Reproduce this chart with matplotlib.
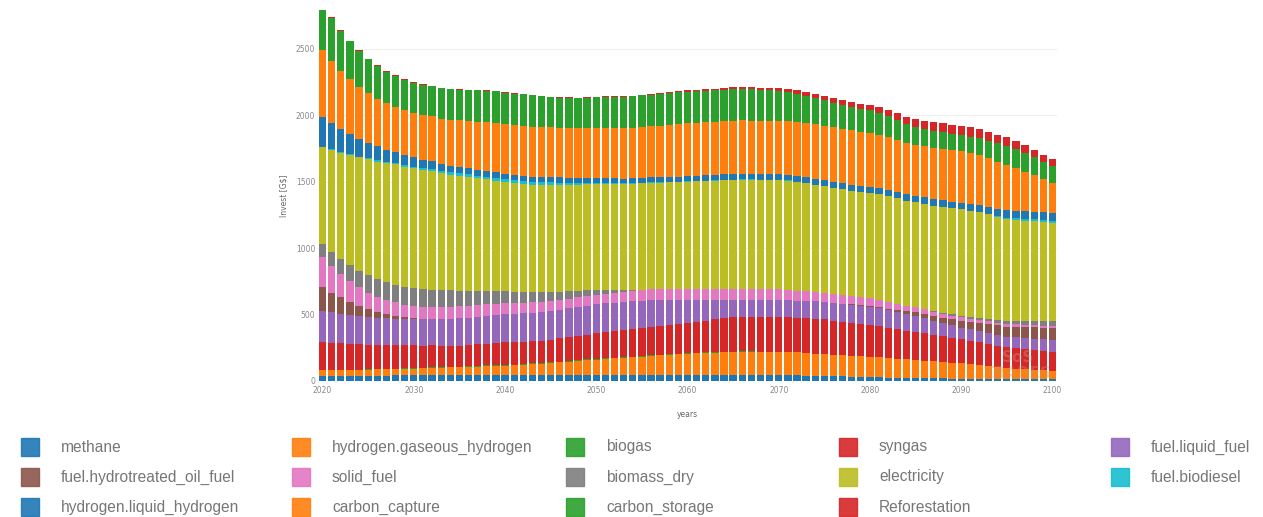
import numpy as np
import matplotlib.pyplot as plt
from matplotlib.patches import Rectangle

years = list(range(2020, 2101))

methane = [40, 40, 40, 40, 41, 41, 41, 41, 42, 42,
           42, 42, 43, 43, 43, 44, 44, 44, 45, 45,
           45, 45, 46, 46, 46, 46, 47, 47, 47, 48,
           48, 48, 48, 48, 48, 48, 48, 48, 48, 48,
           48, 48, 48, 47, 47, 47, 47, 46, 46, 45,
           45, 44, 43, 41, 40, 38, 36, 34, 32, 30,
           28, 27, 25, 24, 22, 20, 20, 19, 19, 18,
           18, 17, 17, 16, 16, 15, 15, 14, 14, 13,
           13]
hydrogen_gaseous = [43, 43, 43, 44, 44, 45, 46, 47, 48, 50,
                    51, 53, 55, 57, 59, 61, 63, 65, 67, 68,
                    70, 73, 77, 81, 85, 89, 94, 99, 104, 109,
                    113, 118, 122, 127, 131, 136, 141, 145, 150, 154,
                    158, 161, 164, 167, 170, 172, 174, 175, 175, 175,
                    175, 174, 172, 170, 167, 165, 163, 161, 159, 157,
                    156, 153, 149, 145, 141, 138, 134, 129, 124, 120,
                    115, 109, 102, 95, 88, 81, 78, 74, 71, 68,
                    65]
biogas = [0, 0, 0, 1, 1, 2, 2, 2, 3, 3,
          3, 3, 4, 4, 4, 4, 5, 5, 5, 5,
          5, 5, 5, 5, 5, 5, 5, 5, 5, 5,
          5, 5, 5, 4, 4, 4, 4, 4, 3, 3,
          3, 3, 3, 2, 2, 2, 2, 2, 1, 1,
          1, 1, 1, 1, 0, 0, 0, 0, 0, 0,
          0, 0, 0, 0, 0, 0, 0, 0, 0, 0,
          0, 0, 0, 0, 0, 0, 0, 0, 0, 0,
          0]
syngas = [213, 206, 201, 195, 190, 185, 182, 179, 177, 174,
          172, 169, 166, 163, 160, 158, 159, 161, 164, 167,
          170, 168, 167, 167, 168, 170, 174, 179, 184, 188,
          193, 196, 199, 202, 205, 208, 212, 216, 220, 223,
          226, 233, 240, 247, 253, 258, 261, 262, 263, 263,
          263, 263, 262, 262, 261, 260, 256, 252, 247, 243,
          238, 233, 228, 222, 217, 213, 207, 200, 194, 187,
          181, 177, 172, 168, 163, 158, 155, 152, 149, 146,
          143]
liquid_fuel = [233, 228, 221, 218, 213, 211, 206, 202, 200, 199,
               197, 198, 200, 202, 204, 205, 207, 208, 210, 211,
               212, 213, 214, 215, 215, 216, 216, 217, 217, 218,
               218, 217, 215, 213, 211, 208, 203, 196, 189, 183,
               176, 166, 156, 146, 137, 130, 127, 126, 125, 125,
               125, 126, 127, 129, 131, 132, 133, 135, 136, 137,
               138, 136, 133, 129, 125, 120, 113, 106, 99, 93,
               88, 85, 83, 81, 80, 80, 81, 83, 85, 87,
               88]
hydrotreated_oil_fuel = [181, 148, 125, 98, 76, 58, 45, 33, 23, 13,
                         7, 3, 1, 0, 0, 0, 0, 0, 0, 0,
                         0, 0, 0, 0, 0, 0, 0, 0, 0, 0,
                         0, 0, 0, 0, 0, 0, 0, 0, 0, 0,
                         0, 0, 0, 0, 0, 0, 0, 0, 0, 0,
                         0, 0, 0, 0, 0, 0, 0, 1, 2, 3,
                         5, 7, 10, 14, 19, 25, 30, 35, 41, 46,
                         51, 56, 61, 66, 71, 75, 78, 81, 84, 86,
                         88]
solid_fuel = [221, 201, 176, 158, 141, 123, 113, 105, 98, 92,
              93, 92, 91, 90, 90, 89, 89, 88, 87, 86,
              85, 83, 81, 79, 78, 76, 75, 73, 72, 71,
              70, 72, 74, 76, 78, 80, 81, 82, 83, 84,
              85, 85, 85, 85, 85, 85, 84, 83, 82, 81,
              80, 78, 75, 72, 68, 65, 64, 62, 61, 59,
              58, 54, 50, 46, 42, 38, 36, 33, 30, 28,
              26, 24, 23, 22, 20, 19, 19, 18, 18, 17,
              17]
biomass_dry = [103, 108, 113, 120, 125, 131, 135, 138, 135, 135,
               133, 130, 128, 125, 122, 120, 114, 108, 101, 94,
               88, 84, 80, 75, 71, 67, 61, 55, 50, 45,
               40, 32, 22, 12, 5, 2, 0, 0, 0, 0,
               0, 0, 0, 0, 0, 0, 0, 0, 0, 0,
               0, 0, 0, 0, 0, 0, 0, 0, 0, 0,
               0, 0, 0, 0, 0, 0, 2, 4, 7, 10,
               12, 14, 16, 18, 19, 20, 24, 28, 32, 35,
               38]
electricity = [728, 766, 800, 829, 853, 873, 882, 891, 904, 904,
               903, 899, 891, 882, 871, 864, 855, 847, 840, 833,
               826, 818, 813, 810, 810, 810, 806, 802, 798, 796,
               795, 796, 798, 800, 802, 803, 803, 803, 803, 803,
               803, 806, 810, 814, 817, 819, 821, 822, 822, 823,
               824, 823, 820, 816, 811, 805, 802, 799, 797, 796,
               795, 795, 795, 794, 792, 790, 791, 793, 796, 799,
               802, 800, 795, 788, 780, 772, 765, 758, 750, 743,
               735]
biodiesel = [2, 3, 4, 5, 6, 7, 8, 10, 11, 12,
             13, 14, 15, 16, 17, 18, 19, 20, 20, 21,
             21, 21, 20, 20, 19, 18, 16, 14, 12, 11,
             10, 9, 8, 7, 6, 5, 5, 4, 4, 3,
             3, 3, 2, 2, 2, 2, 2, 1, 1, 1,
             1, 1, 1, 0, 0, 0, 0, 0, 0, 0,
             0, 0, 0, 0, 0, 0, 0, 0, 0, 0,
             0, 1, 2, 3, 5, 8, 11, 13, 15, 18,
             20]
hydrogen_liquid = [226, 198, 174, 153, 135, 119, 110, 93, 84, 76,
                   70, 64, 59, 55, 51, 48, 46, 44, 43, 42,
                   40, 40, 40, 40, 41, 42, 41, 39, 37, 35,
                   34, 34, 35, 35, 36, 36, 36, 37, 37, 38,
                   38, 39, 40, 41, 42, 43, 43, 43, 43, 43,
                   42, 42, 43, 43, 44, 45, 45, 45, 45, 45,
                   45, 46, 47, 48, 49, 50, 50, 50, 50, 50,
                   50, 51, 52, 53, 54, 56, 56, 56, 56, 56,
                   56]
carbon_capture = [502, 469, 437, 412, 392, 371, 354, 351, 341, 339,
                  336, 339, 341, 339, 346, 352, 356, 362, 366, 372,
                  372, 374, 376, 376, 374, 372, 373, 374, 375, 376,
                  377, 377, 378, 379, 380, 381, 384, 388, 393, 398,
                  401, 402, 402, 401, 401, 401, 401, 401, 401, 402,
                  402, 404, 406, 408, 410, 412, 411, 410, 409, 408,
                  406, 403, 399, 392, 386, 381, 383, 385, 387, 388,
                  389, 384, 376, 366, 355, 344, 322, 299, 274, 250,
                  226]
carbon_storage = [301, 321, 304, 284, 269, 256, 248, 238, 231, 228,
                  226, 226, 226, 229, 231, 231, 233, 235, 236, 236,
                  237, 238, 238, 236, 232, 226, 226, 228, 230, 232,
                  233, 234, 235, 236, 238, 239, 238, 237, 237, 236,
                  236, 236, 236, 236, 236, 236, 235, 234, 232, 229,
                  226, 221, 214, 206, 198, 191, 186, 182, 178, 173,
                  169, 163, 157, 151, 144, 138, 134, 130, 126, 122,
                  118, 122, 127, 132, 137, 143, 141, 138, 135, 132,
                  130]
reforestation = [0, 12, 7, 6, 5, 5, 4, 4, 3, 3,
                 3, 3, 3, 3, 3, 3, 3, 3, 3, 3,
                 3, 3, 3, 3, 3, 3, 3, 3, 3, 3,
                 4, 4, 4, 5, 5, 5, 6, 7, 8, 9,
                 10, 11, 12, 13, 14, 15, 16, 17, 18, 20,
                 22, 23, 25, 27, 28, 30, 32, 34, 36, 38,
                 40, 43, 46, 50, 54, 58, 61, 64, 67, 69,
                 70, 70, 69, 68, 67, 65, 63, 60, 57, 54,
                 50]

# stacking order = trace order (bottom to top)
series = [
    ("methane", methane, "#1f77b4"),
    ("hydrogen.gaseous_hydrogen", hydrogen_gaseous, "#ff7f0e"),
    ("biogas", biogas, "#2ca02c"),
    ("syngas", syngas, "#d62728"),
    ("fuel.liquid_fuel", liquid_fuel, "#9467bd"),
    ("fuel.hydrotreated_oil_fuel", hydrotreated_oil_fuel, "#8c564b"),
    ("solid_fuel", solid_fuel, "#e377c2"),
    ("biomass_dry", biomass_dry, "#7f7f7f"),
    ("electricity", electricity, "#bcbd22"),
    ("fuel.biodiesel", biodiesel, "#17becf"),
    ("hydrogen.liquid_hydrogen", hydrogen_liquid, "#1f77b4"),
    ("carbon_capture", carbon_capture, "#ff7f0e"),
    ("carbon_storage", carbon_storage, "#2ca02c"),
    ("Reforestation", reforestation, "#d62728"),
]

fig = plt.figure(figsize=(12.63, 5.17), dpi=100)
ax = fig.add_axes([318 / 1263, 1 - 381 / 517, 739 / 1263, 371 / 517])

bottom = np.zeros(len(years))
for name, vals, color in series:
    ax.bar(years, vals, bottom=bottom, width=0.8, color=color, linewidth=0)
    bottom += np.array(vals)

ax.set_xlim(2019.5, 2100.5)
ax.set_ylim(0, bottom.max())
ax.set_yticks([0, 500, 1000, 1500, 2000, 2500])
ax.set_xticks(range(2020, 2101, 10))
ax.grid(axis="y", color="#eeeeee", linewidth=0.8)
ax.set_axisbelow(True)
for s in ax.spines.values():
    s.set_visible(False)
ax.tick_params(length=0, labelsize=5.5, labelcolor="#888888")
ax.tick_params(axis="y", pad=2)
ax.tick_params(axis="x", pad=3.5)
ax.set_xlabel("years", fontsize=5.5, color="#666666", labelpad=11)
ax.set_ylabel("Invest [G$]", fontsize=5.5, color="#666666", labelpad=5)

# faint watermark logo
fig.text(1018 / 1263, 1 - 357 / 517, "SoS", fontsize=11, color="#c8a090",
         alpha=0.35, ha="center", va="center", fontweight="bold")
fig.text(1018 / 1263, 1 - 373 / 517, "TRADES", fontsize=11, color="#c89060",
         alpha=0.35, ha="center", va="center", fontweight="bold")

# legend: 5 columns, filled row by row
col_x = [30, 301, 575, 848, 1120]
row_y = [447, 477, 507]
for i, (name, vals, color) in enumerate(series):
    r, c = divmod(i, 5)
    cx, cy = col_x[c], row_y[r]
    fig.patches.append(Rectangle(((cx - 9) / 1263, 1 - (cy + 9) / 517), 18 / 1263, 18 / 517,
                                 transform=fig.transFigure, color=color, alpha=0.9))
    fig.text((cx + 31) / 1263, 1 - cy / 517, name, fontsize=11.2, color="#777777",
             family="Liberation Sans", va="center", ha="left")

fig.savefig("out.png", dpi=100)
